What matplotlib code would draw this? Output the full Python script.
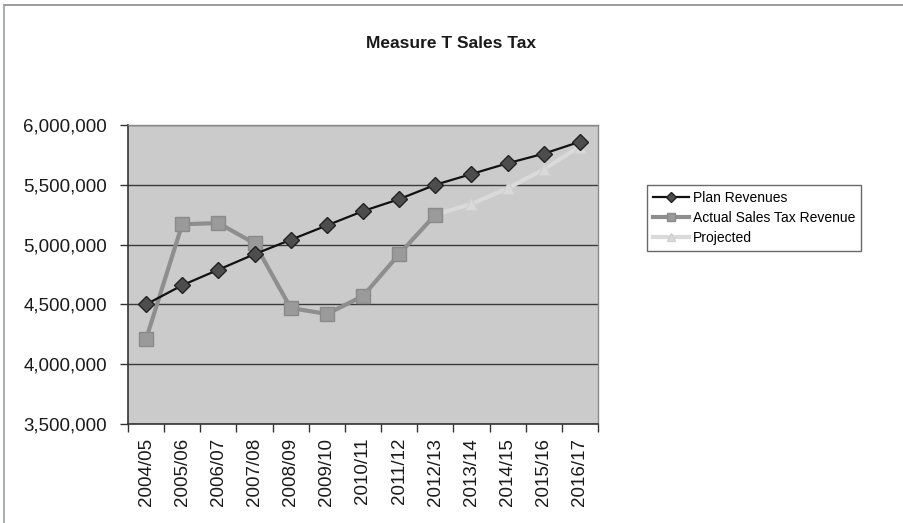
import matplotlib
matplotlib.use("Agg")
import matplotlib.pyplot as plt
from matplotlib.ticker import FuncFormatter, FixedLocator, NullFormatter
from matplotlib.lines import Line2D

plt.rcParams['font.family'] = ['Liberation Sans', 'DejaVu Sans']

years = ["2004/05", "2005/06", "2006/07", "2007/08", "2008/09", "2009/10",
         "2010/11", "2011/12", "2012/13", "2013/14", "2014/15", "2015/16",
         "2016/17"]
plan_revenues = [4500000, 4660000, 4790000, 4920000, 5040000, 5160000,
                 5280000, 5380000, 5500000, 5590000, 5680000, 5760000,
                 5860000]
actual_revenue = [4210000, 5170000, 5180000, 5010000, 4470000, 4420000,
                  4570000, 4920000, 5250000, None, None, None, None]
projected = [None, None, None, None, None, None, None, None,
             5250000, 5340000, 5470000, 5630000, 5820000]

W, H = 904, 523
fig = plt.figure(figsize=(W / 100, H / 100), dpi=100)
fig.patch.set_facecolor("white")

# page frame around the chart object
fig.add_artist(Line2D([4 / W, 1.0], [1 - 5 / H, 1 - 5 / H],
                      transform=fig.transFigure, color="#8a8a8a", lw=1.2))
fig.add_artist(Line2D([4 / W, 4 / W], [0.0, 1 - 5 / H],
                      transform=fig.transFigure, color="#9aa0a0", lw=1.2))

left, right, top, bottom = 128, 598, 125, 424
ax = fig.add_axes([left / W, 1 - bottom / H, (right - left) / W, (bottom - top) / H])
ax.set_facecolor("#cbcbcb")

x = list(range(len(years)))


def series(vals):
    xs = [i for i, v in zip(x, vals) if v is not None]
    ys = [v for v in vals if v is not None]
    return xs, ys


px, py = series(projected)
ax.plot(px, py, color="#dadada", lw=3, marker="^", markersize=9,
        markerfacecolor="#dadada", markeredgecolor="#d0d0d0", zorder=3,
        label="Projected")
axx, axy = series(actual_revenue)
ax.plot(axx, axy, color="#8e8e8e", lw=3, marker="s", markersize=10,
        markerfacecolor="#9a9a9a", markeredgecolor="#8a8a8a", zorder=4,
        label="Actual Sales Tax Revenue")
ax.plot(x, plan_revenues, color="#111111", lw=1.6, marker="D", markersize=8,
        markerfacecolor="#4d4d4d", markeredgecolor="#222222", zorder=5,
        label="Plan Revenues")

ax.set_xlim(-0.5, len(years) - 0.5)
ax.set_ylim(3500000, 6000000)
ax.set_yticks([3500000, 4000000, 4500000, 5000000, 5500000, 6000000])
ax.yaxis.set_major_formatter(FuncFormatter(lambda v, p: f"{int(v):,}"))
ax.yaxis.grid(True, color="#3a3a3a", lw=1.0)
ax.set_axisbelow(True)

ax.set_xticks(x)
ax.set_xticklabels(years, rotation=90)
ax.tick_params(axis="x", which="major", length=0, pad=10, labelsize=13.5,
               labelcolor="#1a1a1a")
ax.xaxis.set_minor_locator(FixedLocator([i - 0.5 for i in range(len(years) + 1)]))
ax.xaxis.set_minor_formatter(NullFormatter())
ax.tick_params(axis="x", which="minor", length=6, width=1, color="#333333")
ax.tick_params(axis="y", length=6, width=1, color="#333333", labelsize=13.5,
               labelcolor="#1a1a1a", pad=9)

for side in ("left", "bottom"):
    ax.spines[side].set_color("#333333")
    ax.spines[side].set_linewidth(1.2)
for side in ("top", "right"):
    ax.spines[side].set_color("#8a8a8a")
    ax.spines[side].set_linewidth(1.0)

fig.text(451 / W, 1 - 43 / H, "Measure T Sales Tax", ha="center", va="center",
         fontsize=12.5, fontweight="bold", color="#1a1a1a")

handles, labels = ax.get_legend_handles_labels()
order = [2, 1, 0]
leg = fig.legend([handles[i] for i in order], [labels[i] for i in order],
                 loc="upper left", bbox_to_anchor=(647 / W, 1 - 185 / H),
                 fontsize=10, frameon=True, fancybox=False, handlelength=2.6,
                 markerscale=0.6, borderpad=0.4, labelspacing=0.45,
                 handletextpad=0.3, borderaxespad=0)
leg.get_frame().set_edgecolor("#444444")
leg.get_frame().set_linewidth(1.0)

fig.savefig("out.png", dpi=100, facecolor="white")
